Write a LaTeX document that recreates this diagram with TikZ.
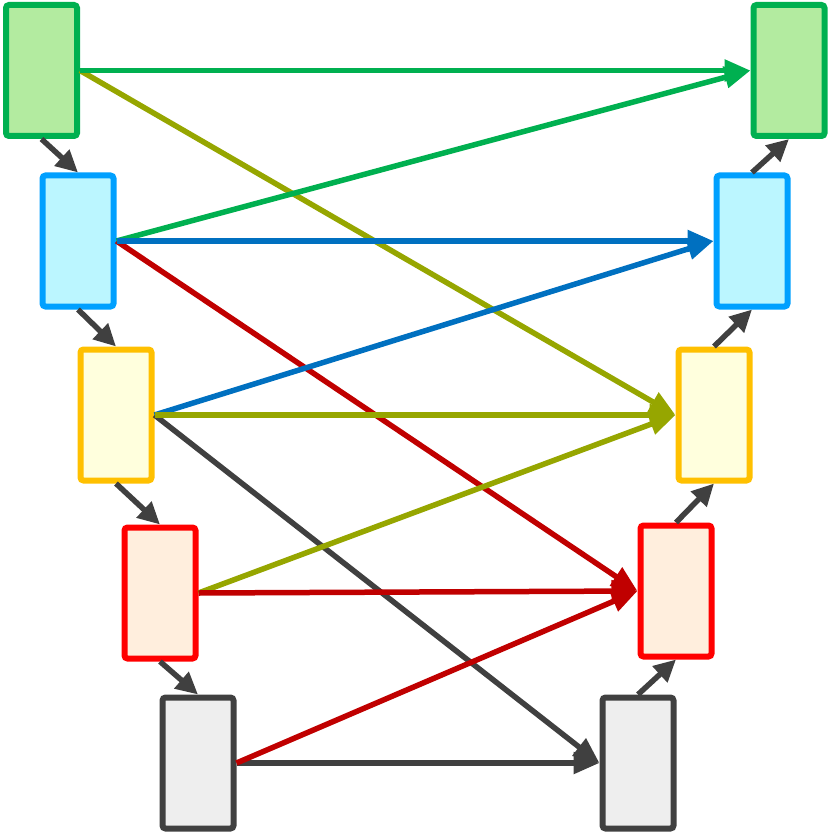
\documentclass[tikz,border=0pt]{standalone}
\usetikzlibrary{arrows.meta}
\definecolor{gS}{HTML}{00B050}\definecolor{gF}{HTML}{B3EBA0}
\definecolor{bS}{HTML}{00A0FF}\definecolor{bF}{HTML}{BBF6FF}
\definecolor{yS}{HTML}{FFC000}\definecolor{yF}{HTML}{FFFFDD}
\definecolor{rS}{HTML}{FF0000}\definecolor{rF}{HTML}{FFEEDD}
\definecolor{kS}{HTML}{404040}\definecolor{kF}{HTML}{EEEEEE}
\definecolor{bL}{HTML}{0070C0}\definecolor{rL}{HTML}{C00000}
\definecolor{oL}{HTML}{96A600}
\tikzset{
  box/.style={draw=#1S,fill=#1F,line width=6pt,rounded corners=3pt,minimum width=71pt,minimum height=131pt,inner sep=0pt},
  link/.style={draw=#1,line width=5.5pt,-{Triangle[length=26pt,width=21pt]}},
  stepline/.style={draw=kS,line width=5.5pt,-{Triangle[length=22pt,width=21pt]}}
}
\begin{document}
\begin{tikzpicture}[x=1pt,y=-1pt]
\useasboundingbox (0,0) rectangle (830,834);
\node[box=g] (L1) at (41.5,70.5) {};
\node[box=b] (L2) at (78,241) {};
\node[box=y] (L3) at (116,415) {};
\node[box=r] (L4) at (160,593) {};
\node[box=k] (L5) at (198,763) {};
\node[box=g] (R1) at (789,70.5) {};
\node[box=b] (R2) at (752,241) {};
\node[box=y] (R3) at (714,415) {};
\node[box=r] (R4) at (676,591) {};
\node[box=k] (R5) at (638,763) {};
% steps
\draw[stepline] (L1.south) -- (L2.north);
\draw[stepline] (L2.south) -- (L3.north);
\draw[stepline] (L3.south) -- (L4.north);
\draw[stepline] (L4.south) -- (L5.north);
\draw[stepline] (R5.north) -- (R4.south);
\draw[stepline] (R4.north) -- (R3.south);
\draw[stepline] (R3.north) -- (R2.south);
\draw[stepline] (R2.north) -- (R1.south);
% long links
\draw[link=kS] (L3.east) -- (R5.west);
\draw[link=kS] (L5.east) -- (R5.west);
\draw[link=oL] (L1.east) -- (R3.west);
\draw[link=rL] (L2.east) -- (R4.west);
\draw[link=bL] (L3.east) -- (R2.west);
\draw[link=oL] (L4.east) -- (R3.west);
\draw[link=rL] (L5.east) -- (R4.west);
\draw[link=gS] (L2.east) -- (R1.west);
\draw[link=gS] (L1.east) -- (R1.west);
\draw[link=bL] (L2.east) -- (R2.west);
\draw[link=oL] (L3.east) -- (R3.west);
\draw[link=rL] (L4.east) -- (R4.west);
\end{tikzpicture}
\end{document}
